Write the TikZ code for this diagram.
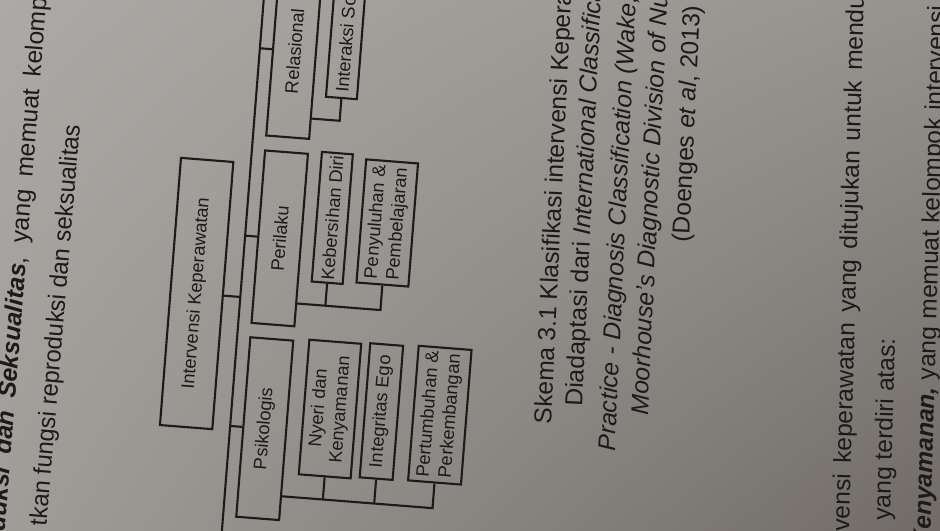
\documentclass[tikz,border=0pt]{standalone}
\usepackage{fontspec}
\setmainfont{Liberation Sans}
\usetikzlibrary{calc,shadings}

\definecolor{paperUL}{RGB}{172,170,166}
\definecolor{paperUR}{RGB}{150,146,141}
\definecolor{paperLL}{RGB}{160,157,153}
\definecolor{paperLR}{RGB}{112,107,102}
\definecolor{ink}{RGB}{28,26,26}

\begin{document}
\begin{tikzpicture}[
  box/.style={draw=ink, line width=0.6pt, text=ink, inner sep=0.5pt, align=center,
              font=\fontsize{5.2}{6.2}\selectfont},
  link/.style={draw=ink, line width=0.6pt},
  prose/.style={text=ink, inner sep=0pt, anchor=base west, font=\fontsize{7}{8}\selectfont},
]
\useasboundingbox (0,0) rectangle (9.4,5.3);
\clip (0,0) rectangle (9.4,5.3);

% paper
\shade[lower left=paperLL, lower right=paperLR, upper left=paperUL, upper right=paperUR]
  (0,0) rectangle (9.4,5.3);

% ---------- classification chart (page turned on its side) ----------
\begin{scope}[rotate=85.5, transform shape]
  \node[box, minimum width=2.68cm, minimum height=0.525cm] (main)  at (2.512,-1.775) {Intervensi Keperawatan};

  \node[box, minimum width=1.80cm, minimum height=0.43cm]  (psik)  at (1.218,-2.56) {Psikologis};
  \node[box, minimum width=1.73cm, minimum height=0.43cm]  (peril) at (3.127,-2.56) {Perilaku};
  \node[box, minimum width=1.73cm, minimum height=0.43cm]  (relas) at (5.007,-2.56) {Relasional};

  \node[box, minimum width=1.35cm, minimum height=0.52cm]  (nyeri) at (1.465,-3.195) {Nyeri dan\\Kenyamanan};
  \node[box, minimum width=1.345cm, minimum height=0.33cm] (integ) at (1.48,-3.71)   {Integritas Ego};
  \node[box, minimum width=1.35cm, minimum height=0.53cm]  (pert)  at (1.49,-4.295)  {Pertumbuhan \&\\Perkembangan};

  \node[box, minimum width=1.30cm, minimum height=0.31cm]  (keb)   at (3.372,-3.068) {Kebersihan Diri};
  \node[box, minimum width=1.235cm, minimum height=0.52cm] (peny)  at (3.365,-3.62)  {Penyuluhan \&\\Pembelajaran};

  \node[box, minimum width=1.35cm, minimum height=0.31cm]  (inter) at (5.25,-3.065)  {Interaksi Sosial};

  % trunk and its stubs
  \coordinate (t0) at (-0.3,-2.213);
  \coordinate (t1) at (6.3,-2.213);
  \draw[link] (t0) -- (t1);
  \foreach \nm/\an in {main/south, psik/north, peril/north, relas/north}
    \draw[link] (\nm.\an) -- ($(t0)!(\nm.\an)!(t1)$);

  % Psikologis group
  \path (psik.south west) ++(0.25,0) coordinate (pa) ++(0,-1.52) coordinate (pb);
  \draw[link] (pa) -- (pb);
  \foreach \nm in {nyeri, integ, pert}
    \draw[link] (\nm.west) -- ($(pa)!(\nm.west)!(pb)$);

  % Perilaku group
  \path (peril.south west) ++(0.24,0) coordinate (qa) ++(0,-0.845) coordinate (qb);
  \draw[link] (qa) -- (qb);
  \foreach \nm in {keb, peny}
    \draw[link] (\nm.west) -- ($(qa)!(\nm.west)!(qb)$);

  % Relasional group
  \path (relas.south west) ++(0.215,0) coordinate (ra) ++(0,-0.29) coordinate (rb);
  \draw[link] (ra) -- (rb);
  \draw[link] (inter.west) -- ($(ra)!(inter.west)!(rb)$);
\end{scope}

% ---------- running text, left ----------
\node[prose, rotate=85.5] (lt1) at (0.046,-0.02)
  {\makebox[5.35cm][s]{\textbf{\textit{duksi dan Seksualitas}}, yang memuat kelomp}};
\node[prose, rotate=85.2, xscale=0.965] (lt2) at (0.463,0.03)
  {tkan fungsi reproduksi dan seksualitas};

% ---------- caption ----------
\node[prose, rotate=87.3] (cap1) at (5.51,1.05) {Skema 3.1 Klasifikasi intervensi Kepera};
\node[prose, rotate=87.3] (cap2) at (5.82,1.23) {Diadaptasi dari \textit{International Classifica}};
\node[prose, rotate=87.3] (cap3) at (6.15,0.78) {\textit{Practice - Diagnosis Classification (Wake,}};
\node[prose, rotate=87.3] (cap4) at (6.48,1.14) {\textit{Moorhouse's Diagnostic Division of Nu}};
\node[prose, rotate=87.3] (cap5) at (6.89,2.87) {(Doenges \textit{et al}, 2013)};

% ---------- running text, right ----------
\node[prose, rotate=88.4] (rt1) at (8.49,-0.02)
  {\makebox[5.36cm][s]{vensi keperawatan yang ditujukan untuk mendu}};
\node[prose, rotate=88.4] (rt2) at (8.90,0.09) {yang terdiri atas:};
\node[prose, rotate=88.4] (rt3) at (9.30,-0.18)
  {\makebox[5.42cm][s]{\textbf{\textit{Kenyamanan,}} yang memuat kelompok intervensi}};
\end{tikzpicture}
\end{document}
